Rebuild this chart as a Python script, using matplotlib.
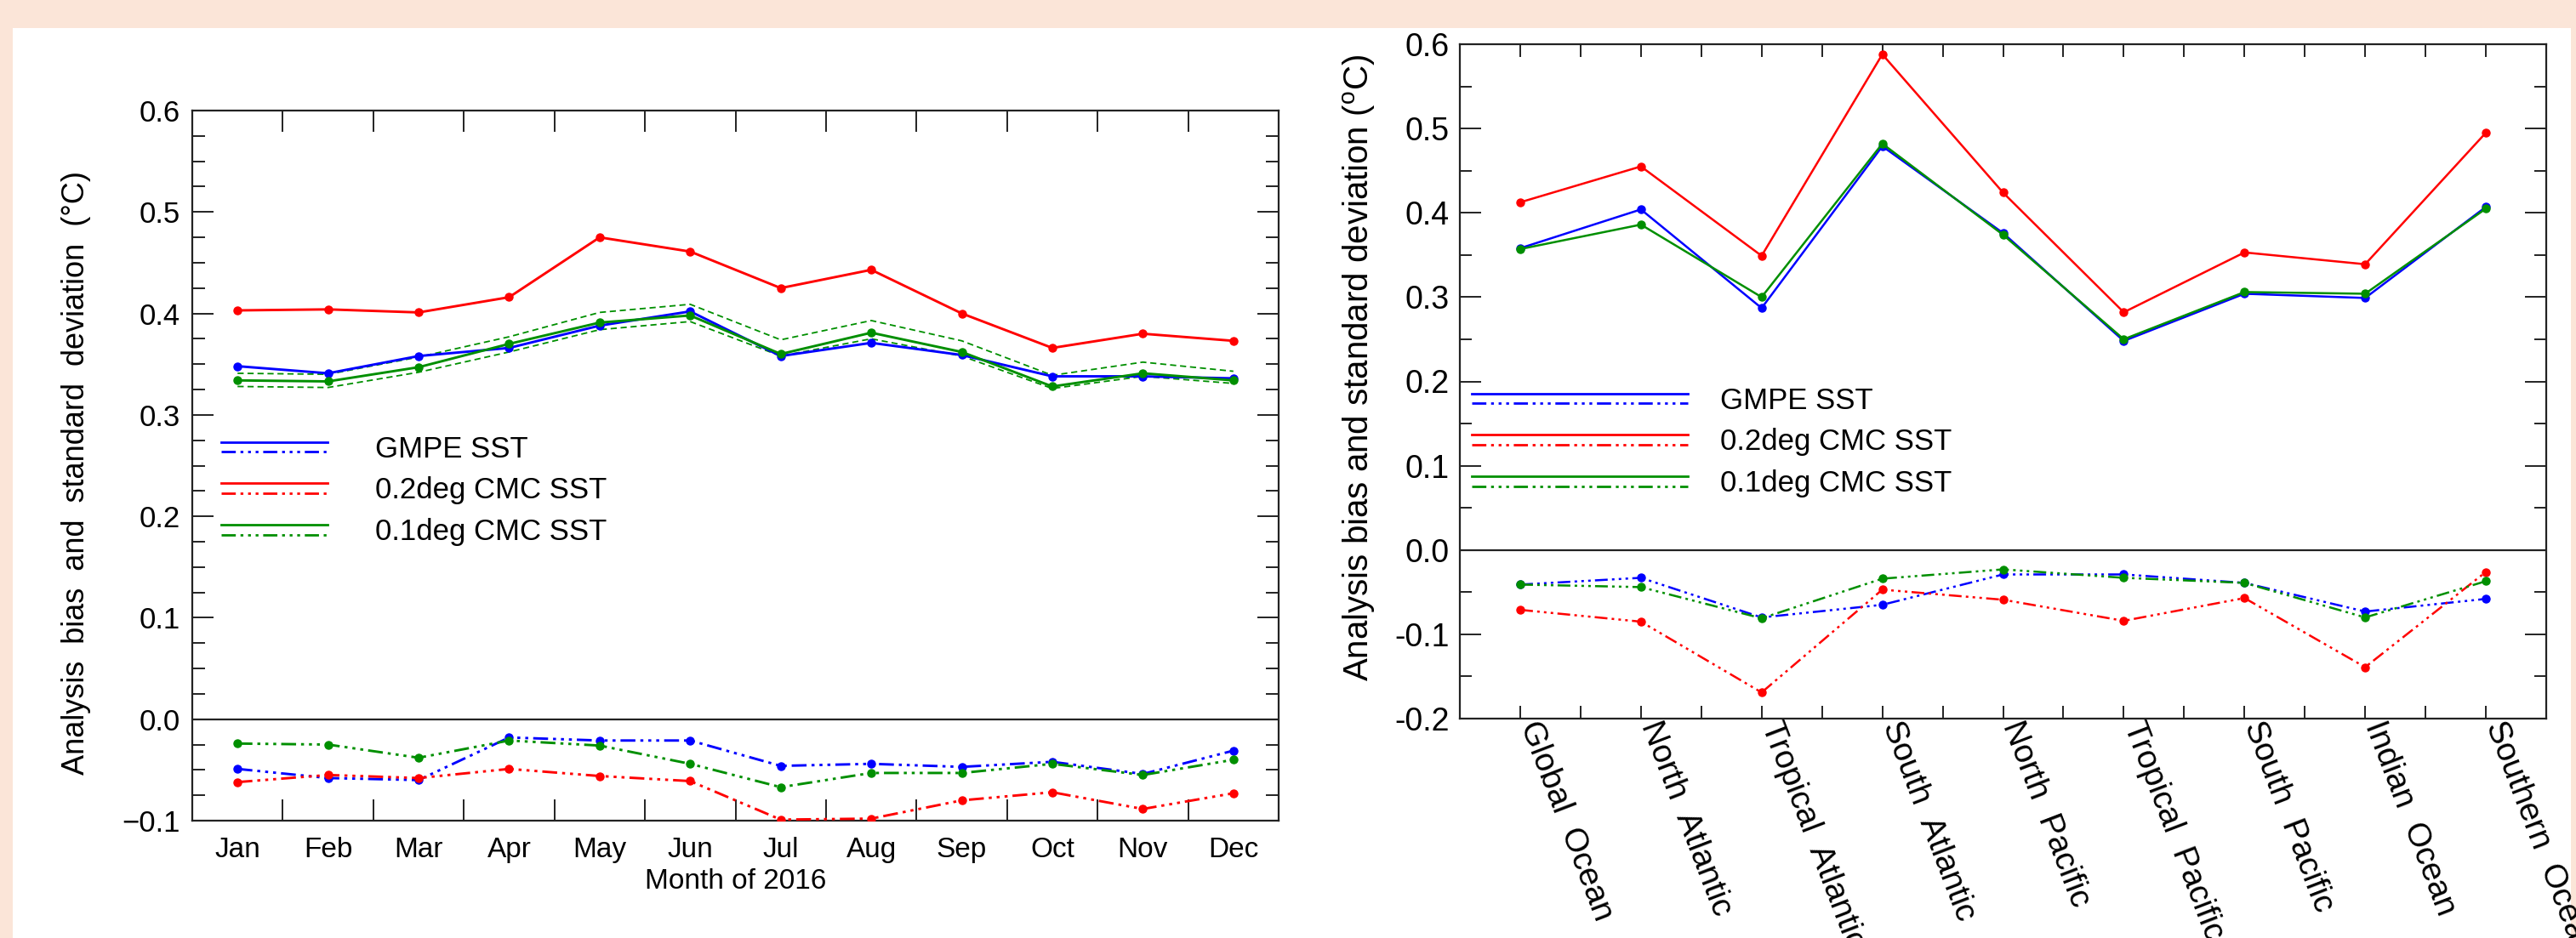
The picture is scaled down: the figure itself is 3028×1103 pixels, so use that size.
import matplotlib
matplotlib.use("Agg")
import matplotlib.pyplot as plt
from matplotlib.lines import Line2D
from matplotlib.legend_handler import HandlerBase
from matplotlib.patches import Rectangle
from matplotlib.ticker import MultipleLocator, FixedLocator, FuncFormatter

plt.rcParams['font.family'] = ['Liberation Sans', 'DejaVu Sans']
plt.rcParams['mathtext.fontset'] = 'custom'
plt.rcParams['mathtext.rm'] = 'Liberation Sans'

# ---------------- data: monthly (left panel) ----------------
months = ['Jan', 'Feb', 'Mar', 'Apr', 'May', 'Jun',
          'Jul', 'Aug', 'Sep', 'Oct', 'Nov', 'Dec']
gmpe_std = [0.348, 0.341, 0.358, 0.366, 0.388, 0.402, 0.358, 0.371, 0.359, 0.338, 0.338, 0.336]
cmc02_std = [0.403, 0.404, 0.401, 0.416, 0.475, 0.461, 0.425, 0.443, 0.400, 0.366, 0.380, 0.373]
cmc01_std = [0.334, 0.333, 0.347, 0.370, 0.391, 0.398, 0.360, 0.381, 0.362, 0.328, 0.341, 0.334]
cmc01_std_hi = [0.341, 0.340, 0.357, 0.377, 0.401, 0.409, 0.374, 0.393, 0.373, 0.339, 0.352, 0.343]
cmc01_std_lo = [0.328, 0.327, 0.342, 0.362, 0.384, 0.392, 0.358, 0.375, 0.358, 0.326, 0.338, 0.331]
gmpe_bias = [-0.049, -0.058, -0.060, -0.018, -0.021, -0.021, -0.046, -0.044, -0.047, -0.042, -0.054, -0.031]
cmc02_bias = [-0.062, -0.055, -0.058, -0.049, -0.056, -0.061, -0.099, -0.098, -0.080, -0.072, -0.0885, -0.073]
cmc01_bias = [-0.024, -0.025, -0.038, -0.021, -0.026, -0.044, -0.067, -0.053, -0.053, -0.044, -0.055, -0.040]

# ---------------- data: regional (right panel) ----------------
regions = ['Global Ocean', 'North Atlantic', 'Tropical Atlantic', 'South Atlantic',
           'North Pacific', 'Tropical Pacific', 'South Pacific', 'Indian Ocean',
           'Southern Ocean']
gmpe_r_std = [0.358, 0.404, 0.287, 0.479, 0.376, 0.248, 0.304, 0.299, 0.407]
cmc02_r_std = [0.4125, 0.455, 0.349, 0.588, 0.424, 0.282, 0.353, 0.339, 0.495]
cmc01_r_std = [0.357, 0.386, 0.300, 0.482, 0.374, 0.250, 0.306, 0.304, 0.405]
gmpe_r_bias = [-0.041, -0.033, -0.080, -0.065, -0.029, -0.029, -0.039, -0.073, -0.058]
cmc02_r_bias = [-0.071, -0.085, -0.169, -0.047, -0.059, -0.084, -0.057, -0.139, -0.026]
cmc01_r_bias = [-0.041, -0.044, -0.081, -0.034, -0.023, -0.033, -0.039, -0.080, -0.037]

series_names = ['GMPE SST', '0.2deg CMC SST', '0.1deg CMC SST']
BLUE, RED, GREEN = '#0000ff', '#ff0000', '#008f00'
colors = [BLUE, RED, GREEN]
DDD = (0, (6, 2, 1.2, 2, 1.2, 2, 1.2, 2))
SPINE = '#222222'

W, H = 3028, 1103
fig = plt.figure(figsize=(W / 100, H / 100), dpi=100, facecolor='#fbe5d8')
bg = Rectangle((15 / W, 0), (3022 - 15) / W, 1 - 33 / H,
               transform=fig.transFigure, facecolor='white',
               edgecolor='none', zorder=-10)
fig.patches.append(bg)


def fr(x0, x1, ytop, ybot):
    return [x0 / W, 1 - ybot / H, (x1 - x0) / W, (ybot - ytop) / H]


class TwoLineHandler(HandlerBase):
    def create_artists(self, legend, orig_handle, xdescent, ydescent,
                       width, height, fontsize, trans):
        c = orig_handle.get_color()
        x0, x1 = -xdescent, -xdescent + width
        yc = -ydescent + height / 2
        off = 0.17 * fontsize
        l1 = Line2D([x0, x1], [yc + off, yc + off], color=c, lw=2.0,
                    transform=trans)
        l2 = Line2D([x0, x1], [yc - off, yc - off], color=c, lw=2.0,
                    linestyle=DDD, transform=trans)
        return [l1, l2]


def style_axes(ax):
    ax.set_facecolor('white')
    for s in ax.spines.values():
        s.set_linewidth(1.6)
        s.set_color(SPINE)
    ax.tick_params(which='both', direction='in', top=True, right=True,
                   color=SPINE, width=1.4)
    ax.axhline(0, color=SPINE, lw=1.6, zorder=1)


# ================= left panel =================
axL = fig.add_axes(fr(226, 1503, 130, 965))
style_axes(axL)
x = list(range(1, 13))
for std, bias, c in zip([gmpe_std, cmc02_std, cmc01_std],
                        [gmpe_bias, cmc02_bias, cmc01_bias], colors):
    axL.plot(x, std, color=c, lw=2.1, marker='o', ms=6.5, zorder=3)
    axL.plot(x, bias, color=c, lw=2.1, linestyle=DDD, marker='o', ms=6.5, zorder=3)
axL.plot(x, cmc01_std_hi, color=GREEN, lw=1.3, linestyle=(0, (4, 2.5)), zorder=2)
axL.plot(x, cmc01_std_lo, color=GREEN, lw=1.3, linestyle=(0, (4, 2.5)), zorder=2)

axL.set_xlim(0.5, 12.5)
axL.set_ylim(-0.1, 0.6)
axL.set_xticks(x)
axL.set_xticklabels(months, fontsize=24)
axL.xaxis.set_minor_locator(FixedLocator([i + 0.5 for i in range(1, 12)]))
axL.tick_params(axis='x', which='major', length=0, pad=14)
axL.tick_params(axis='x', which='minor', length=18)
axL.yaxis.set_major_locator(MultipleLocator(0.1))
axL.yaxis.set_minor_locator(MultipleLocator(0.025))
axL.tick_params(axis='y', which='major', length=18, labelsize=25, pad=10)
axL.tick_params(axis='y', which='minor', length=11)
axL.yaxis.set_major_formatter(FuncFormatter(
    lambda v, p: ('\u2212' if v < -1e-9 else '') + '%.1f' % abs(v)))
axL.set_xlabel('Month of 2016', fontsize=24)
axL.xaxis.set_label_coords(0.5, -0.086)
axL.xaxis.label.set_va('center')
axL.set_ylabel('Analysis  bias  and  standard  deviation  (\u00b0C)', fontsize=26)
axL.yaxis.set_label_coords(-0.1065, 0.49)
axL.yaxis.label.set_va('center')

hL = [Line2D([], [], color=c) for c in colors]
axL.legend(hL, series_names, handler_map={Line2D: TwoLineHandler()},
           loc='center left', bbox_to_anchor=(0.027, 0.465), frameon=False,
           fontsize=25, handlelength=3.6, handletextpad=1.6, labelspacing=0.45,
           borderpad=0, borderaxespad=0)

# ================= right panel =================
axR = fig.add_axes(fr(1716, 2993, 52, 845))
style_axes(axR)
xr = list(range(len(regions)))
for std, bias, c in zip([gmpe_r_std, cmc02_r_std, cmc01_r_std],
                        [gmpe_r_bias, cmc02_r_bias, cmc01_r_bias], colors):
    axR.plot(xr, std, color=c, lw=1.8, marker='o', ms=6.5, zorder=3)
    axR.plot(xr, bias, color=c, lw=1.8, linestyle=DDD, marker='o', ms=6.5, zorder=3)

axR.set_xlim(-0.5, len(regions) - 0.5)
axR.set_ylim(-0.2, 0.6)
axR.set_xticks(xr)
axR.set_xticklabels([r.replace(' ', '  ') for r in regions], rotation=-69,
                    ha='left', va='baseline', rotation_mode='anchor', fontsize=28)
axR.xaxis.set_minor_locator(FixedLocator([i + 0.5 for i in range(len(regions) - 1)]))
axR.tick_params(axis='x', which='both', length=11, pad=6)
axR.yaxis.set_major_locator(MultipleLocator(0.1))
axR.yaxis.set_minor_locator(MultipleLocator(0.05))
axR.tick_params(axis='y', which='major', length=18, labelsize=27, pad=9)
axR.tick_params(axis='y', which='minor', length=10)
axR.yaxis.set_major_formatter(FuncFormatter(lambda v, p: '%.1f' % (0.0 if abs(v) < 1e-9 else v)))
axR.set_ylabel('Analysis bias and standard deviation ($^{\\rm o}$C)', fontsize=29)
axR.yaxis.set_label_coords(-0.0924, 0.52)
axR.yaxis.label.set_va('center')

hR = [Line2D([], [], color=c) for c in colors]
axR.legend(hR, series_names, handler_map={Line2D: TwoLineHandler()},
           loc='center left', bbox_to_anchor=(0.011, 0.41), frameon=False,
           fontsize=25, handlelength=7.3, handletextpad=1.1, labelspacing=0.45,
           borderpad=0, borderaxespad=0)

fig.savefig('out.png', dpi=100, facecolor=fig.get_facecolor())
